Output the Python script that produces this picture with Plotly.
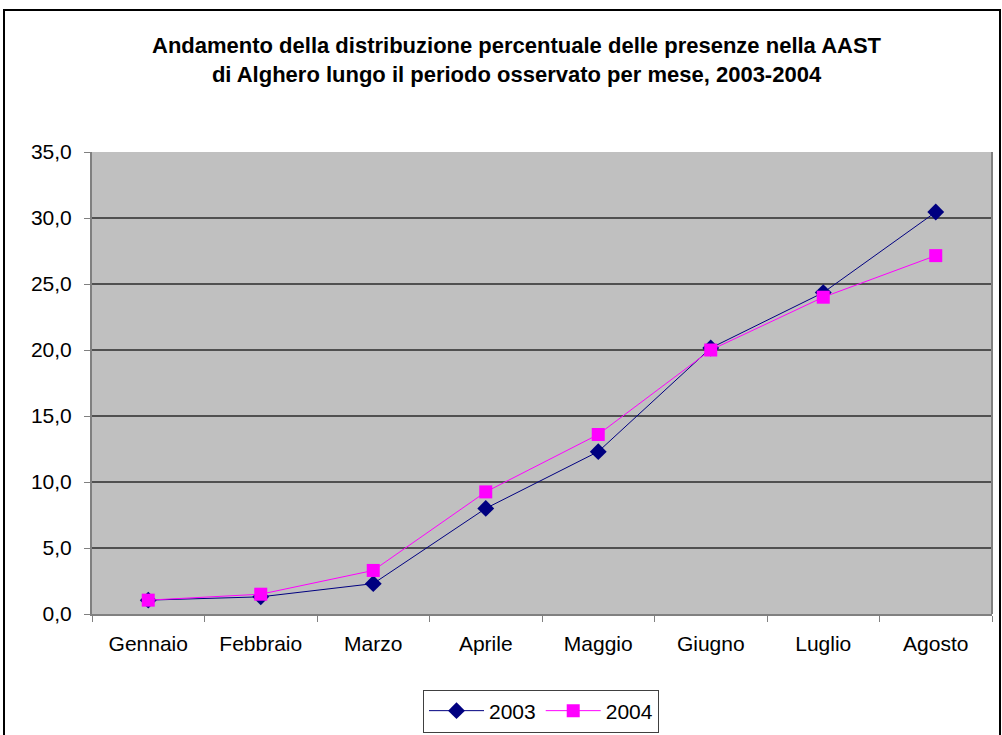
import plotly.graph_objects as go

mesi = ["Gennaio", "Febbraio", "Marzo", "Aprile", "Maggio", "Giugno", "Luglio", "Agosto"]
serie_2003 = [1.05, 1.3, 2.3, 8.0, 12.3, 20.15, 24.35, 30.45]
serie_2004 = [1.05, 1.5, 3.3, 9.25, 13.6, 20.0, 24.0, 27.15]
y_ticks = [0, 5, 10, 15, 20, 25, 30, 35]

W, H = 1002, 735
L, R, T, B = 92, 10, 152, 121
pw, ph = W - L - R, H - T - B

def px(x):
    return (x - L) / pw

def py(y):
    return (H - B - y) / ph

fig = go.Figure()
fig.add_trace(go.Scatter(
    x=mesi, y=serie_2003, name="2003", mode="lines+markers",
    line=dict(color="#000080", width=1),
    marker=dict(symbol="diamond", size=13, color="#000080"),
))
fig.add_trace(go.Scatter(
    x=mesi, y=serie_2004, name="2004", mode="lines+markers",
    line=dict(color="#FF00FF", width=1),
    marker=dict(symbol="square", size=13, color="#FF00FF"),
))

fig.update_layout(
    width=W, height=H,
    margin=dict(l=L, r=R, t=T, b=B, autoexpand=False),
    paper_bgcolor="white",
    plot_bgcolor="#C0C0C0",
    separators=",.",
    font=dict(family="Liberation Sans, Arial, sans-serif", size=21, color="black"),
    showlegend=True,
    legend=dict(
        orientation="h", x=px(541), xanchor="center", y=py(711), yanchor="middle",
        bordercolor="#404040", borderwidth=1, bgcolor="white",
        font=dict(size=21), itemwidth=55,
    ),
    xaxis=dict(
        type="category", tickson="boundaries", ticks="outside", ticklen=6,
        tickcolor="#808080", showline=True, linecolor="#808080", linewidth=2,
        showgrid=False, mirror=False, range=[-0.5, 7.5], ticklabelstandoff=10,
        automargin=False,
    ),
    yaxis=dict(
        range=[0, 35], tickvals=y_ticks, tickformat=".1f", ticks="outside", ticklen=6,
        tickcolor="#808080", showline=True, linecolor="#808080", linewidth=2,
        showgrid=True, gridcolor="#505050", gridwidth=2, zeroline=False,
        ticklabelstandoff=8, automargin=False,
    ),
    annotations=[
        dict(
            text="<b>Andamento della distribuzione percentuale delle presenze nella AAST<br>di Alghero lungo il periodo osservato per mese, 2003-2004</b>",
            xref="paper", yref="paper", x=px(517), y=py(60), xanchor="center", yanchor="middle",
            showarrow=False, font=dict(size=22), align="center",
        )
    ],
    shapes=[
        dict(type="rect", xref="paper", yref="paper",
             x0=px(4), x1=px(1000), y0=py(745), y1=py(10),
             line=dict(color="black", width=2), fillcolor="rgba(0,0,0,0)", layer="below"),
        dict(type="line", xref="paper", yref="paper", x0=1, x1=1, y0=0, y1=1,
             line=dict(color="#808080", width=2)),
    ],
)

fig.write_html("out.html")
